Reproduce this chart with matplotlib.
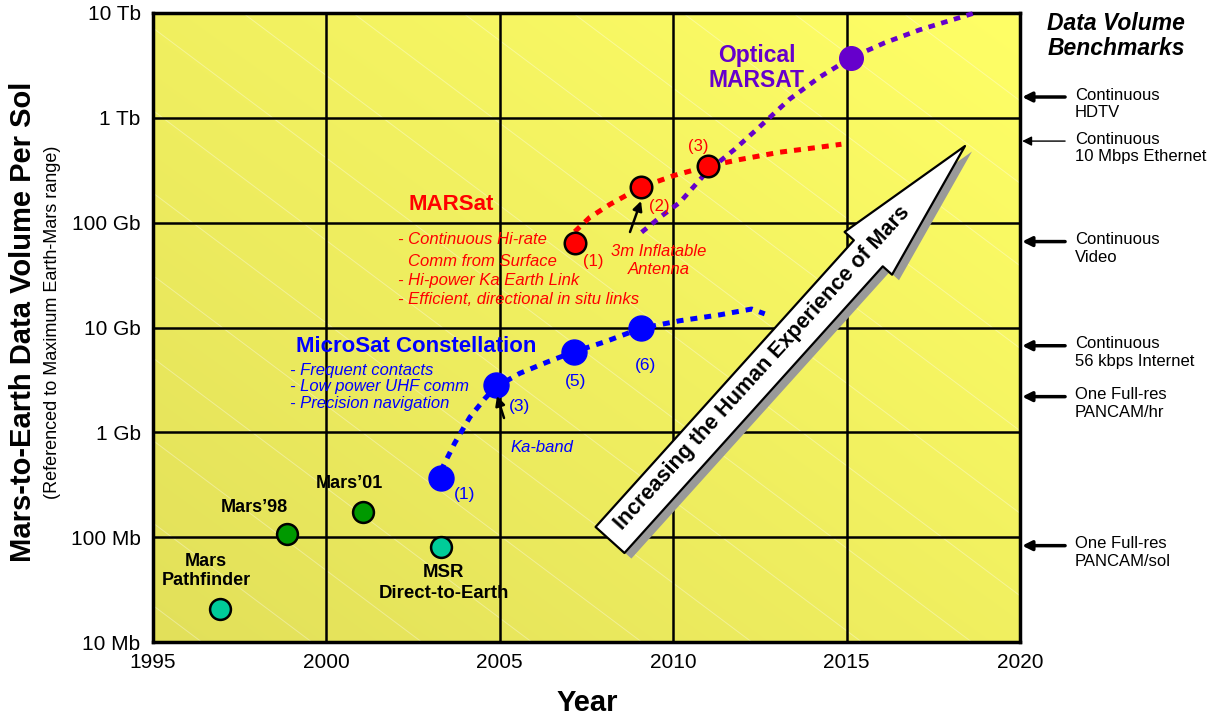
import matplotlib.pyplot as plt
import matplotlib.patheffects as pe
import numpy as np
from matplotlib.patches import FancyArrowPatch

plt.rcParams['font.family'] = ['Liberation Sans', 'DejaVu Sans']

W, H = 1216, 717

# past missions
past_names = ['Mars Pathfinder', "Mars'98", "Mars'01", 'MSR Direct-to-Earth']
past_years = [1996.93, 1998.86, 2001.05, 2003.30]
past_vol = [2.05e7, 1.07e8, 1.74e8, 8.1e7]
past_colors = ['#00CC99', '#009900', '#009900', '#00CC99']

# MicroSat constellation
micro_years = [2003.30, 2004.88, 2007.13, 2009.06]
micro_vol = [3.7e8, 2.8e9, 5.85e9, 9.8e9]
micro_trend_years = [2003.30, 2003.70, 2004.14, 2004.57, 2004.88, 2005.58, 2006.38,
                     2007.13, 2008.03, 2009.06, 2010.19, 2011.34, 2012.26, 2012.64]
micro_trend_vol = [4.3e8, 7.9e8, 1.4e9, 2.1e9, 2.7e9, 3.66e9, 4.7e9,
                   5.85e9, 7.3e9, 9.8e9, 1.16e10, 1.32e10, 1.5e10, 1.35e10]

# MARSat
marsat_years = [2007.16, 2009.06, 2010.99]
marsat_vol = [6.4e10, 2.17e11, 3.45e11]
marsat_trend_years = [2007.16, 2007.59, 2008.17, 2009.06, 2010.04, 2010.99,
                      2011.92, 2013.07, 2014.22, 2014.85]
marsat_trend_vol = [8.2e10, 1.12e11, 1.49e11, 2.17e11, 2.83e11, 3.45e11,
                    4.0e11, 4.7e11, 5.25e11, 5.6e11]

# Optical MARSAT
optical_years = [2015.14]
optical_vol = [3.76e12]
optical_trend_years = [2009.09, 2009.61, 2010.19, 2010.99, 2011.77, 2012.49,
                       2013.36, 2014.22, 2015.14, 2016.10, 2017.10, 2018.69]
optical_trend_vol = [8.1e10, 1.12e11, 1.56e11, 3.1e11, 5.0e11, 8.2e11,
                     1.51e12, 2.44e12, 3.76e12, 5.2e12, 6.9e12, 1.0e13]

# benchmarks on the right
bench_labels = ['Continuous\nHDTV', 'Continuous\n10 Mbps Ethernet', 'Continuous\nVideo',
                'Continuous\n56 kbps Internet', 'One Full-res\nPANCAM/hr', 'One Full-res\nPANCAM/sol']
bench_vol = [1.58e12, 6.0e11, 6.6e10, 6.7e9, 2.19e9, 8.3e7]
bench_lw = [2.5, 1.0, 2.5, 2.5, 2.5, 2.5]

x_ticks = [1995, 2000, 2005, 2010, 2015, 2020]
y_ticks = [1e7, 1e8, 1e9, 1e10, 1e11, 1e12, 1e13]
y_ticklabels = ['10 Mb', '100 Mb', '1 Gb', '10 Gb', '100 Gb', '1 Tb', '10 Tb']


def fp(x, y):
    # pixel position -> figure fraction
    return x / W, 1 - y / H


fig = plt.figure(figsize=(W / 100, H / 100), dpi=100)
rect = [153 / W, 1 - 642 / H, 867 / W, 629 / H]

# background gradient + faint diagonal texture
bg = fig.add_axes(rect, zorder=0)
gx, gy = np.meshgrid(np.linspace(0, 1, 300), np.linspace(1, 0, 220))
t = (gx + gy) / 2
c0 = np.array([226, 224, 90]) / 255
c1 = np.array([255, 255, 102]) / 255
img = c0[None, None, :] * (1 - t[..., None]) + c1[None, None, :] * t[..., None]
bg.imshow(img, extent=[0, 867, 629, 0], aspect='auto', interpolation='bilinear')
for x0 in range(-900, 900, 110):
    bg.plot([x0, x0 + 1200], [0, 900], color='white', lw=0.7, alpha=0.35)
bg.set_xlim(0, 867)
bg.set_ylim(629, 0)
bg.axis('off')

ax = fig.add_axes(rect, zorder=1)
ax.set_facecolor('none')
ax.set_yscale('log')
ax.set_xlim(1995, 2020)
ax.set_ylim(1e7, 1e13)
ax.set_xticks(x_ticks)
ax.set_yticks(y_ticks)
ax.set_yticklabels(y_ticklabels)
ax.minorticks_off()
ax.tick_params(length=0, labelsize=15)
ax.tick_params(axis='y', pad=9)
ax.tick_params(axis='x', pad=8)
ax.grid(True, color='black', lw=1.8)
for s in ax.spines.values():
    s.set_linewidth(2.5)

dots = (0, (1.4, 1.4))
ax.plot(micro_trend_years, micro_trend_vol, color='#0000FF', lw=3.6, ls=dots, zorder=3)
ax.plot(marsat_trend_years, marsat_trend_vol, color='#FF0000', lw=3.6, ls=dots, zorder=3)
ax.plot(optical_trend_years, optical_trend_vol, color='#6600CC', lw=3.4, ls=dots, zorder=3, clip_on=False)

for yr, v, c in zip(past_years, past_vol, past_colors):
    ax.plot(yr, v, 'o', ms=15, mfc=c, mec='black', mew=1.8, zorder=4)
ax.plot(micro_years, micro_vol, 'o', ms=18, mfc='#0000FF', mec='#0000FF', zorder=4)
ax.plot(marsat_years, marsat_vol, 'o', ms=15.5, mfc='#FF0000', mec='black', mew=1.8, zorder=4)
ax.plot(optical_years, optical_vol, 'o', ms=17, mfc='#6600CC', mec='#6600CC', zorder=4)

# benchmark arrows
for lab, v, lw in zip(bench_labels, bench_vol, bench_lw):
    ax.annotate('', xy=(1.0025, v), xycoords=('axes fraction', 'data'),
                xytext=(1.052, v), textcoords=('axes fraction', 'data'),
                arrowprops=dict(arrowstyle='-|>', lw=lw, color='black', mutation_scale=14,
                                shrinkA=0, shrinkB=0),
                annotation_clip=False)
    ax.annotate(lab, xy=(1.0634, v), xycoords=('axes fraction', 'data'),
                xytext=(0, -5), textcoords='offset points', ha='left', va='center',
                fontsize=12, linespacing=1.2, annotation_clip=False)

fig.text(*fp(1116, 36), 'Data Volume\nBenchmarks', ha='center', va='center', fontsize=16.5,
         fontweight='bold', fontstyle='italic', linespacing=1.15)

# axis titles
fig.text(*fp(587, 703), 'Year', ha='center', va='center', fontsize=21, fontweight='bold')
fig.text(*fp(23, 322), 'Mars-to-Earth Data Volume Per Sol', rotation=90, ha='center', va='center',
         fontsize=21, fontweight='bold')
fig.text(*fp(53, 322), '(Referenced to Maximum Earth-Mars range)', rotation=90, ha='center',
         va='center', fontsize=13)

# mission labels
fig.text(*fp(206, 571), 'Mars\nPathfinder', ha='center', va='center', fontsize=13, fontweight='bold')
fig.text(*fp(254, 507), "Mars\u201998", ha='center', va='center', fontsize=13, fontweight='bold')
fig.text(*fp(349, 483), "Mars\u201901", ha='center', va='center', fontsize=13, fontweight='bold')
fig.text(*fp(444, 583), 'MSR\nDirect-to-Earth', ha='center', va='center', fontsize=13.4,
         fontweight='bold', linespacing=1.25)

blue = '#0000FF'
fig.text(*fp(416, 347), 'MicroSat Constellation', ha='center', va='center', fontsize=16,
         fontweight='bold', color=blue)
fig.text(*fp(290, 387), '- Frequent contacts\n- Low power UHF comm\n- Precision navigation',
         ha='left', va='center', fontsize=12, fontstyle='italic', color=blue, linespacing=1.1)
for lab, x, y in [('(1)', 465, 494), ('(3)', 520, 407), ('(5)', 576, 382), ('(6)', 645, 365)]:
    fig.text(*fp(x, y), lab, ha='center', va='center', fontsize=12.5, color=blue)
fig.text(*fp(542, 448), 'Ka-band', ha='center', va='center', fontsize=12, fontstyle='italic', color=blue)

red = '#FF0000'
fig.text(*fp(451, 204), 'MARSat', ha='center', va='center', fontsize=16, fontweight='bold', color=red)
for lab, x, y in [('- Continuous Hi-rate', 398, 240), ('Comm from Surface', 408, 262),
                  ('- Hi-power Ka Earth Link', 398, 281),
                  ('- Efficient, directional in situ links', 398, 300)]:
    fig.text(*fp(x, y), lab, ha='left', va='center', fontsize=12, fontstyle='italic', color=red)
for lab, x, y in [('(1)', 593, 262), ('(2)', 659, 206), ('(3)', 698, 147)]:
    fig.text(*fp(x, y), lab, ha='center', va='center', fontsize=12, color=red)
fig.text(*fp(659, 261), '3m Inflatable\nAntenna', ha='center', va='center', fontsize=12,
         fontstyle='italic', color=red, linespacing=1.25)

fig.text(*fp(757, 68), 'Optical\nMARSAT', ha='center', va='center', fontsize=16.5,
         fontweight='bold', color='#6600CC', linespacing=1.1)

# small pointer arrows
for a, b in [((504, 418), (497, 396)), ((630, 232), (641, 201))]:
    fig.patches.append(FancyArrowPatch(fp(*a), fp(*b), transform=fig.transFigure,
                                       arrowstyle='-|>', mutation_scale=14, lw=1.8,
                                       color='black', shrinkA=0, shrinkB=0, zorder=4))

# big arrow
big = FancyArrowPatch(fp(610, 540), fp(965, 146), transform=fig.transFigure,
                      arrowstyle='simple,head_length=104,head_width=46,tail_width=28',
                      mutation_scale=1, fc='white', ec='black', lw=1.6,
                      shrinkA=0, shrinkB=0, zorder=4,
                      path_effects=[pe.SimplePatchShadow(offset=(5, -4), shadow_rgbFace='#999999', alpha=1),
                                    pe.Normal()])
fig.patches.append(big)
fig.text(*fp(762, 368), 'Increasing the Human Experience of Mars', rotation=47.8,
         rotation_mode='anchor', ha='center', va='center', fontsize=15.5, fontweight='bold', zorder=5)

fig.savefig('out.png', dpi=100)
